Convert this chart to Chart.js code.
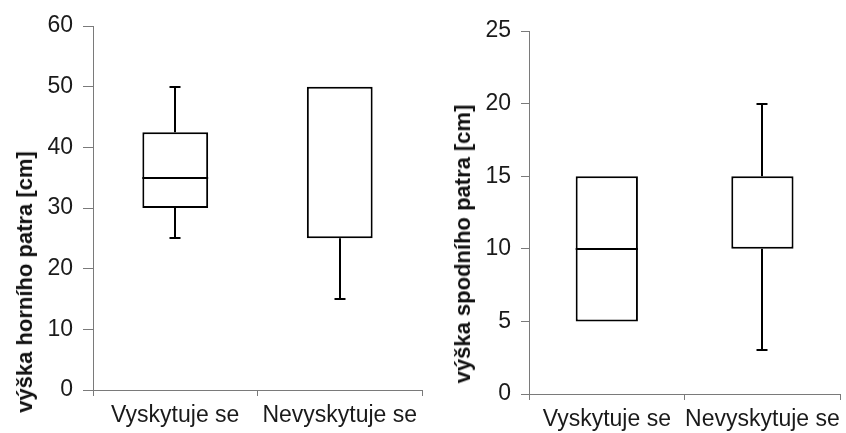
<!DOCTYPE html>
<html>
<head>
<meta charset="utf-8">
<script src="https://cdn.jsdelivr.net/npm/chart.js@4/dist/chart.umd.min.js"></script>
<style>
  html, body { margin: 0; padding: 0; background: #fff; }
  #page { position: relative; width: 846px; height: 433px; overflow: hidden; }
  .panel { position: absolute; top: 0; height: 433px; }
  .ytitle {
    position: absolute;
    font: bold 22px "Liberation Sans", Arial, sans-serif;
    color: #111;
    white-space: nowrap;
    transform: translate(-50%, -50%) rotate(-90deg);
  }
</style>
</head>
<body>
<div id="page">
  <div class="panel" style="left:0;width:425px"><canvas id="upper-chart"></canvas></div>
  <div class="panel" style="left:423px;width:423px"><canvas id="lower-chart"></canvas></div>
  <div class="ytitle" style="left:25px;top:282px">výška horního patra [cm]</div>
  <div class="ytitle" style="left:463px;top:244px">výška spodního patra [cm]</div>
</div>
<script>
const categories = ["Vyskytuje se", "Nevyskytuje se"];

// horní patro
const upperMin = [25, 15];
const upperQ1 = [30, 25];
const upperMedian = [35, 50];
const upperQ3 = [42.5, 50];
const upperMax = [50, 50];
const upperTicks = { max: 60, step: 10 };

// spodní patro
const lowerMin = [5, 3];
const lowerQ1 = [5, 10];
const lowerMedian = [10, 10];
const lowerQ3 = [15, 15];
const lowerMax = [15, 20];
const lowerTicks = { max: 25, step: 5 };

const textColor = "#1a1a1a";
const axisColor = "#7a7a7a";
const tickFont = { family: "'Liberation Sans', Arial, sans-serif", size: 23 };

// whiskers + median drawn on top of the floating bars
function boxLines(stats) {
  return {
    id: "boxLines",
    afterDatasetsDraw(chart) {
      const ctx = chart.ctx;
      const x = chart.scales.x;
      const y = chart.scales.y;
      const bars = chart.getDatasetMeta(0).data;
      ctx.save();
      ctx.strokeStyle = "#000";
      ctx.lineWidth = 2;
      ctx.lineCap = "butt";
      const seg = (x1, y1, x2, y2) => {
        ctx.beginPath();
        ctx.moveTo(x1, y1);
        ctx.lineTo(x2, y2);
        ctx.stroke();
      };
      stats.min.forEach((mn, i) => {
        const cx = Math.round(x.getPixelForValue(i));
        const half = bars[i].width / 2;
        const cap = 5.5;
        if (mn < stats.q1[i]) {
          const yl = Math.round(y.getPixelForValue(mn));
          seg(cx, y.getPixelForValue(stats.q1[i]), cx, yl);
          seg(cx - cap, yl, cx + cap, yl);
        }
        if (stats.max[i] > stats.q3[i]) {
          const yh = Math.round(y.getPixelForValue(stats.max[i]));
          seg(cx, y.getPixelForValue(stats.q3[i]), cx, yh);
          seg(cx - cap, yh, cx + cap, yh);
        }
        // median that sits on a box edge is already drawn by the border
        if (stats.median[i] > stats.q1[i] && stats.median[i] < stats.q3[i]) {
          const ym = Math.round(y.getPixelForValue(stats.median[i]));
          seg(bars[i].x - half, ym, bars[i].x + half, ym);
        }
      });
      ctx.restore();
    },
  };
}

function makeBoxChart(canvasId, stats, ticks, dims) {
  const ctx = document.getElementById(canvasId).getContext("2d");
  return new Chart(ctx, {
    type: "bar",
    data: {
      labels: categories,
      datasets: [
        {
          data: stats.q1.map((q, i) => [q, stats.q3[i]]),
          backgroundColor: "#ffffff",
          borderColor: "#000000",
          borderWidth: 2,
          borderSkipped: false,
          barPercentage: 0.4,
          categoryPercentage: 1,
        },
      ],
    },
    options: {
      responsive: true,
      maintainAspectRatio: false,
      animation: false,
      layout: {
        padding: { top: dims.top, right: dims.right, bottom: 0, left: 0 },
      },
      plugins: {
        legend: { display: false },
        tooltip: { enabled: false },
      },
      scales: {
        x: {
          grid: {
            offset: true,
            drawOnChartArea: false,
            drawTicks: true,
            tickLength: 6,
            color: axisColor,
          },
          border: { color: axisColor, width: 1 },
          ticks: {
            color: textColor,
            padding: 6,
            maxRotation: 0,
            font: tickFont,
          },
          afterFit: (scale) => {
            scale.height = dims.xHeight;
          },
        },
        y: {
          min: 0,
          max: ticks.max,
          grid: {
            drawOnChartArea: false,
            drawTicks: true,
            tickLength: dims.tick,
            color: axisColor,
          },
          border: { color: axisColor, width: 1 },
          ticks: {
            stepSize: ticks.step,
            color: textColor,
            padding: 10,
            font: tickFont,
          },
          afterFit: (scale) => {
            scale.width = dims.yWidth;
          },
        },
      },
    },
    plugins: [boxLines(stats)],
  });
}

makeBoxChart(
  "upper-chart",
  { min: upperMin, q1: upperQ1, median: upperMedian, q3: upperQ3, max: upperMax },
  upperTicks,
  { top: 26, right: 3, xHeight: 43, yWidth: 93, tick: 10 }
);

makeBoxChart(
  "lower-chart",
  { min: lowerMin, q1: lowerQ1, median: lowerMedian, q3: lowerQ3, max: lowerMax },
  lowerTicks,
  { top: 31, right: 1, xHeight: 39, yWidth: 106, tick: 8 }
);
</script>
</body>
</html>
